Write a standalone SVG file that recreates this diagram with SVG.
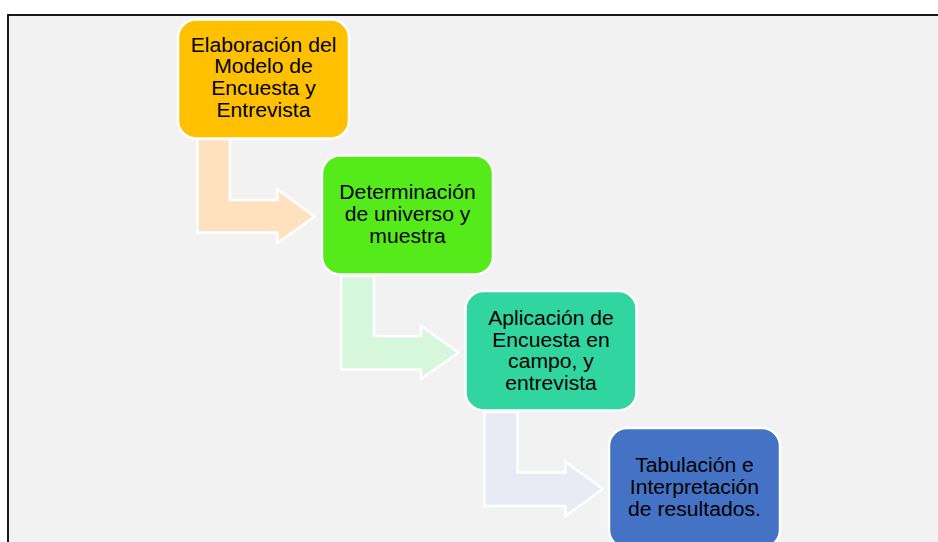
<svg xmlns="http://www.w3.org/2000/svg" width="938" height="542" viewBox="0 0 938 542">
<style>
.bg{fill:#f2f2f2;stroke:#000;stroke-width:1.8}
.node{stroke:#fff;stroke-width:2.5}
.arr{stroke:#fff;stroke-width:2.5;stroke-linejoin:miter}
.lbl{font-family:"Liberation Sans",Arial,sans-serif;font-size:19.5px;fill:#000;text-anchor:middle}
</style>
<rect width="938" height="542" fill="#fff"/>
<rect class="bg" x="8" y="15" width="1000" height="600"/>
<g id="connectors">
<path class="arr" fill="#ffe0bf" d="M197.5,139 L230,139 L230,200 L277.5,200 L277.5,189.5 L314.5,216.5 L277.5,243 L277.5,232.5 L197.5,232.5 Z"/>
<path class="arr" fill="#d7f7dc" d="M341,276 L374,276 L374,336 L421,336 L421,326 L458.5,352.5 L421,379 L421,369.5 L341,369.5 Z"/>
<path class="arr" fill="#e8ebf4" d="M484.5,412 L517.5,412 L517.5,472.5 L565.5,472.5 L565.5,462 L603,489 L565.5,516 L565.5,506 L484.5,506 Z"/>
</g>
<g id="node1">
<rect class="node" x="178" y="19.5" width="171" height="119" rx="18" fill="#ffc000"/>
<text class="lbl" transform="translate(263.5 0) scale(1.085 1)"><tspan x="0" y="51.7">Elaboración del</tspan><tspan x="0" y="73.5">Modelo de</tspan><tspan x="0" y="95.4">Encuesta y</tspan><tspan x="0" y="117.3">Entrevista</tspan></text>
</g>
<g id="node2">
<rect class="node" x="322" y="155.5" width="171" height="119" rx="18" fill="#55eb1b"/>
<text class="lbl" transform="translate(407.5 0) scale(1.085 1)"><tspan x="0" y="199.3">Determinación</tspan><tspan x="0" y="221.3">de universo y</tspan><tspan x="0" y="243.3">muestra</tspan></text>
</g>
<g id="node3">
<rect class="node" x="465.5" y="291" width="171" height="119.5" rx="18" fill="#30d5a0"/>
<text class="lbl" transform="translate(551 0) scale(1.085 1)"><tspan x="0" y="325">Aplicación de</tspan><tspan x="0" y="346.7">Encuesta en</tspan><tspan x="0" y="368.4">campo, y</tspan><tspan x="0" y="390">entrevista</tspan></text>
</g>
<g id="node4">
<rect class="node" x="609" y="428" width="171" height="120" rx="18" fill="#4472c4"/>
<text class="lbl" transform="translate(694.5 0) scale(1.085 1)"><tspan x="0" y="472.3">Tabulación e</tspan><tspan x="0" y="494.2">Interpretación</tspan><tspan x="0" y="516">de resultados.</tspan></text>
</g>
</svg>
